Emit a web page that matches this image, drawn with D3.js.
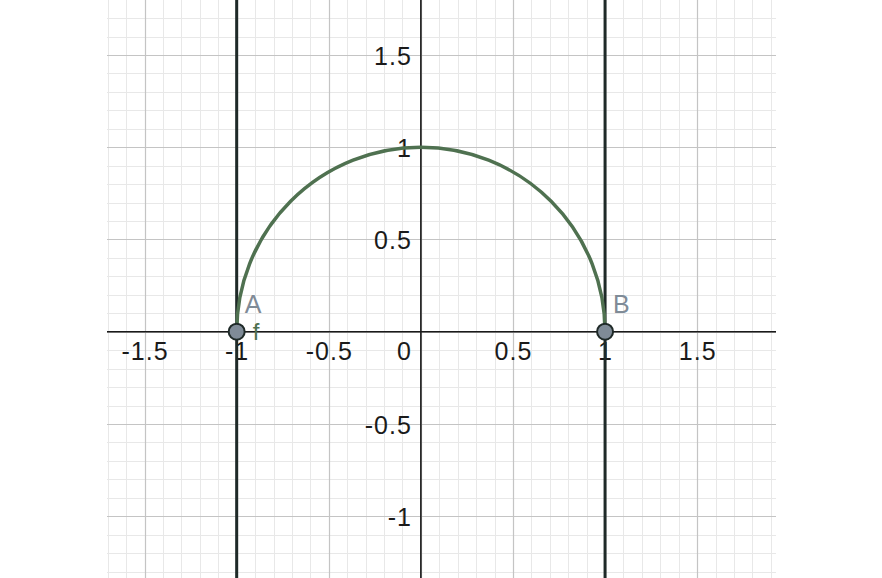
<!DOCTYPE html>
<html>
<head>
<meta charset="utf-8">
<script src="https://cdn.jsdelivr.net/npm/d3@7/dist/d3.min.js"></script>
<style>
  html, body { margin: 0; padding: 0; background: #fff; }
  svg { display: block; }
  text { font-family: Arial, "Liberation Sans", sans-serif; }
</style>
</head>
<body>
<svg id="chart" width="882" height="578"></svg>
<script>
// ---- data ----
const xDomain = [-1.704, 1.928];
const yDomain = [-1.335, 1.798];
const xTickValues = [-1.5, -1, -0.5, 0, 0.5, 1, 1.5];
const xTickLabels = ["-1.5", "-1", "-0.5", "0", "0.5", "1", "1.5"];
const yTickValues = [-1, -0.5, 0.5, 1, 1.5];
const yTickLabels = ["-1", "-0.5", "0.5", "1", "1.5"];
const verticalLines = [-1, 1];           // x = -1, x = 1
const circleCenter = [0, 0];             // f: upper semicircle
const circleRadius = 1;
const pointNames = ["A", "B"];
const pointX = [-1, 1];
const pointY = [0, 0];
const curveName = "f";

// ---- layout ----
const svg = d3.select("#chart");
const pLeft = 107, pRight = 776, pTop = 0, pBottom = 578;
const x = d3.scaleLinear().domain(xDomain).range([pLeft, pRight]);
const y = d3.scaleLinear().domain(yDomain).range([pBottom, pTop]);

const g = svg.append("g");

// minor grid (0.1)
const minorX = d3.range(Math.ceil(xDomain[0] * 10), Math.floor(xDomain[1] * 10) + 1).map(d => d / 10);
const minorY = d3.range(Math.ceil(yDomain[0] * 10), Math.floor(yDomain[1] * 10) + 1).map(d => d / 10);
g.append("g").selectAll("line").data(minorX).join("line")
  .attr("x1", d => Math.round(x(d)) + 0.5).attr("x2", d => Math.round(x(d)) + 0.5)
  .attr("y1", pTop).attr("y2", pBottom)
  .attr("stroke", "#e8e8e8").attr("stroke-width", 1);
g.append("g").selectAll("line").data(minorY).join("line")
  .attr("y1", d => Math.round(y(d)) + 0.5).attr("y2", d => Math.round(y(d)) + 0.5)
  .attr("x1", pLeft).attr("x2", pRight)
  .attr("stroke", "#e8e8e8").attr("stroke-width", 1);

// major grid (0.5)
const majorX = minorX.filter(d => Math.abs(Math.round(d * 10) % 5) === 0);
const majorY = minorY.filter(d => Math.abs(Math.round(d * 10) % 5) === 0);
g.append("g").selectAll("line").data(majorX).join("line")
  .attr("x1", d => Math.round(x(d)) + 0.5).attr("x2", d => Math.round(x(d)) + 0.5)
  .attr("y1", pTop).attr("y2", pBottom)
  .attr("stroke", "#c4c4c4").attr("stroke-width", 1.2);
g.append("g").selectAll("line").data(majorY).join("line")
  .attr("y1", d => Math.round(y(d)) + 0.5).attr("y2", d => Math.round(y(d)) + 0.5)
  .attr("x1", pLeft).attr("x2", pRight)
  .attr("stroke", "#c4c4c4").attr("stroke-width", 1.2);

// axes
g.append("line").attr("x1", pLeft).attr("x2", pRight)
  .attr("y1", y(0)).attr("y2", y(0)).attr("stroke", "#1a1a1a").attr("stroke-width", 1.6);
g.append("line").attr("x1", x(0)).attr("x2", x(0))
  .attr("y1", pTop).attr("y2", pBottom).attr("stroke", "#1a1a1a").attr("stroke-width", 1.6);

// tick labels
const fontSize = 25;
g.append("g").selectAll("text").data(xTickValues).join("text")
  .attr("x", d => d === 0 ? x(0) - 9 : x(d) + 0.5)
  .attr("y", y(0) + 28)
  .attr("text-anchor", d => d === 0 ? "end" : "middle")
  .attr("font-size", fontSize).attr("letter-spacing", 1).attr("fill", "#1a1a1a")
  .text((d, i) => xTickLabels[i]);
g.append("g").selectAll("text").data(yTickValues).join("text")
  .attr("x", x(0) - 9)
  .attr("y", d => y(d) + 10)
  .attr("text-anchor", "end")
  .attr("font-size", fontSize).attr("letter-spacing", 1).attr("fill", "#1a1a1a")
  .text((d, i) => yTickLabels[i]);

// vertical lines x = ±1
g.append("g").selectAll("line").data(verticalLines).join("line")
  .attr("x1", d => x(d)).attr("x2", d => x(d))
  .attr("y1", pTop).attr("y2", pBottom)
  .attr("stroke", "#1f2a28").attr("stroke-width", 3);

// semicircle f
const rx = x(circleRadius) - x(0), ry = y(0) - y(circleRadius);
g.append("path")
  .attr("d", `M${x(circleCenter[0] - circleRadius)},${y(circleCenter[1])} A${rx},${ry} 0 0 1 ${x(circleCenter[0] + circleRadius)},${y(circleCenter[1])}`)
  .attr("fill", "none").attr("stroke", "#4f7150").attr("stroke-width", 3.5);

// curve label
g.append("text").attr("x", x(-1) + 16).attr("y", y(0) + 8)
  .attr("font-size", 24).attr("fill", "#4f7150").text(curveName);

// points
g.append("g").selectAll("circle").data(pointX).join("circle")
  .attr("cx", d => x(d)).attr("cy", (d, i) => y(pointY[i]))
  .attr("r", 8).attr("fill", "#7f8b97").attr("stroke", "#1f2a28").attr("stroke-width", 2);
g.append("g").selectAll("text").data(pointX).join("text")
  .attr("x", d => x(d) + 8).attr("y", (d, i) => y(pointY[i]) - 19)
  .attr("font-size", 25).attr("fill", "#7f8b97")
  .text((d, i) => pointNames[i]);
</script>
</body>
</html>
